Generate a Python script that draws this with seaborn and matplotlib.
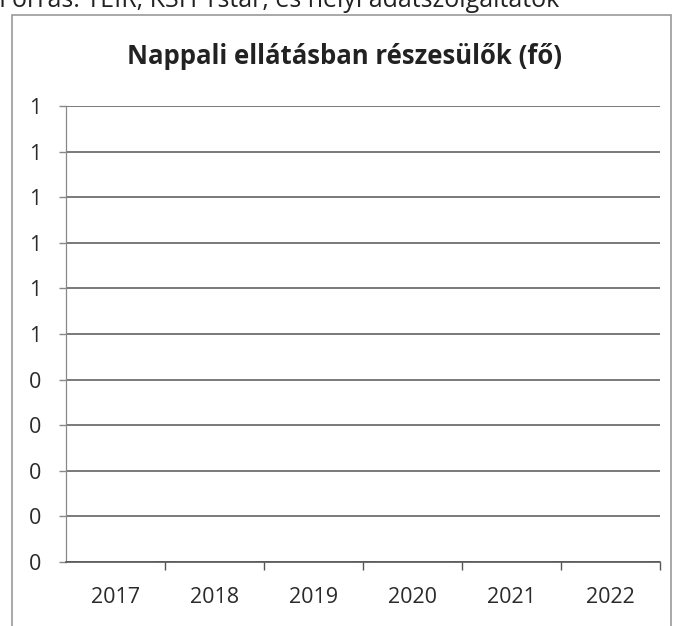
import numpy as np
import pandas as pd
import matplotlib
matplotlib.use("Agg")
import matplotlib.pyplot as plt
import seaborn as sns
from matplotlib.patches import Rectangle
from matplotlib.ticker import MultipleLocator, FixedLocator, StrMethodFormatter

# --------------------------
# Data
# --------------------------

years = ["2017", "2018", "2019", "2020", "2021", "2022"]
values = [0, 0, 0, 0, 0, 0]
title = "Nappali ellátásban részesülők (fő)"
source = "Forrás: TEIR, KSH Tstar, és helyi adatszolgáltatók"

df = pd.DataFrame({"Év": years, "Fő": values})

# --------------------------
# Plot
# --------------------------

sns.set_theme(style="white")
plt.rcParams["font.family"] = ["Open Sans", "DejaVu Sans"]

fig = plt.figure(figsize=(6.89, 6.26), dpi=100)
ax = fig.add_axes([0.0958, 0.1022, 0.8622, 0.7285])

sns.barplot(data=df, x="Év", y="Fő", color="#4472c4", ax=ax)

ax.set_xlim(-0.5, 5.5)
ax.set_ylim(0, 1)
ax.yaxis.set_major_locator(MultipleLocator(0.1))
ax.yaxis.set_major_formatter(StrMethodFormatter("{x:.0f}"))
ax.grid(axis="y", color="#555555", linewidth=1.1)
ax.set_axisbelow(True)

ax.set_xlabel("")
ax.set_ylabel("")

for side in ["top", "right"]:
    ax.spines[side].set_visible(False)
ax.spines["left"].set_color("#888888")
ax.spines["left"].set_linewidth(0.9)
ax.spines["bottom"].set_color("#555555")
ax.spines["bottom"].set_linewidth(1.2)

ax.tick_params(axis="x", which="major", length=0, pad=18, labelsize=15.5, labelcolor="#2a2a2a")
ax.xaxis.set_minor_locator(FixedLocator(np.arange(0.5, 5.6, 1.0)))
ax.tick_params(axis="x", which="minor", bottom=True, length=6, color="#555555", width=1)
ax.tick_params(axis="y", left=True, length=5, color="#888888", width=1,
               pad=13, labelsize=15.5, labelcolor="#2a2a2a")

fig.text(0.5, 1 - 56 / 626, title, ha="center", va="center",
         fontsize=18.5, fontweight="bold", color="#222222")

# outer chart frame
fig.patches.append(Rectangle((12 / 689, -0.05), 659 / 689, 1.05 - 15 / 626,
                             transform=fig.transFigure, fill=False,
                             edgecolor="#999999", linewidth=1.2))

# clipped source line at the top
fig.text(-0.002, 1 - 7 / 626, source, ha="left", va="baseline",
         fontsize=18, color="#222222")

fig.savefig("out.png", dpi=100)
